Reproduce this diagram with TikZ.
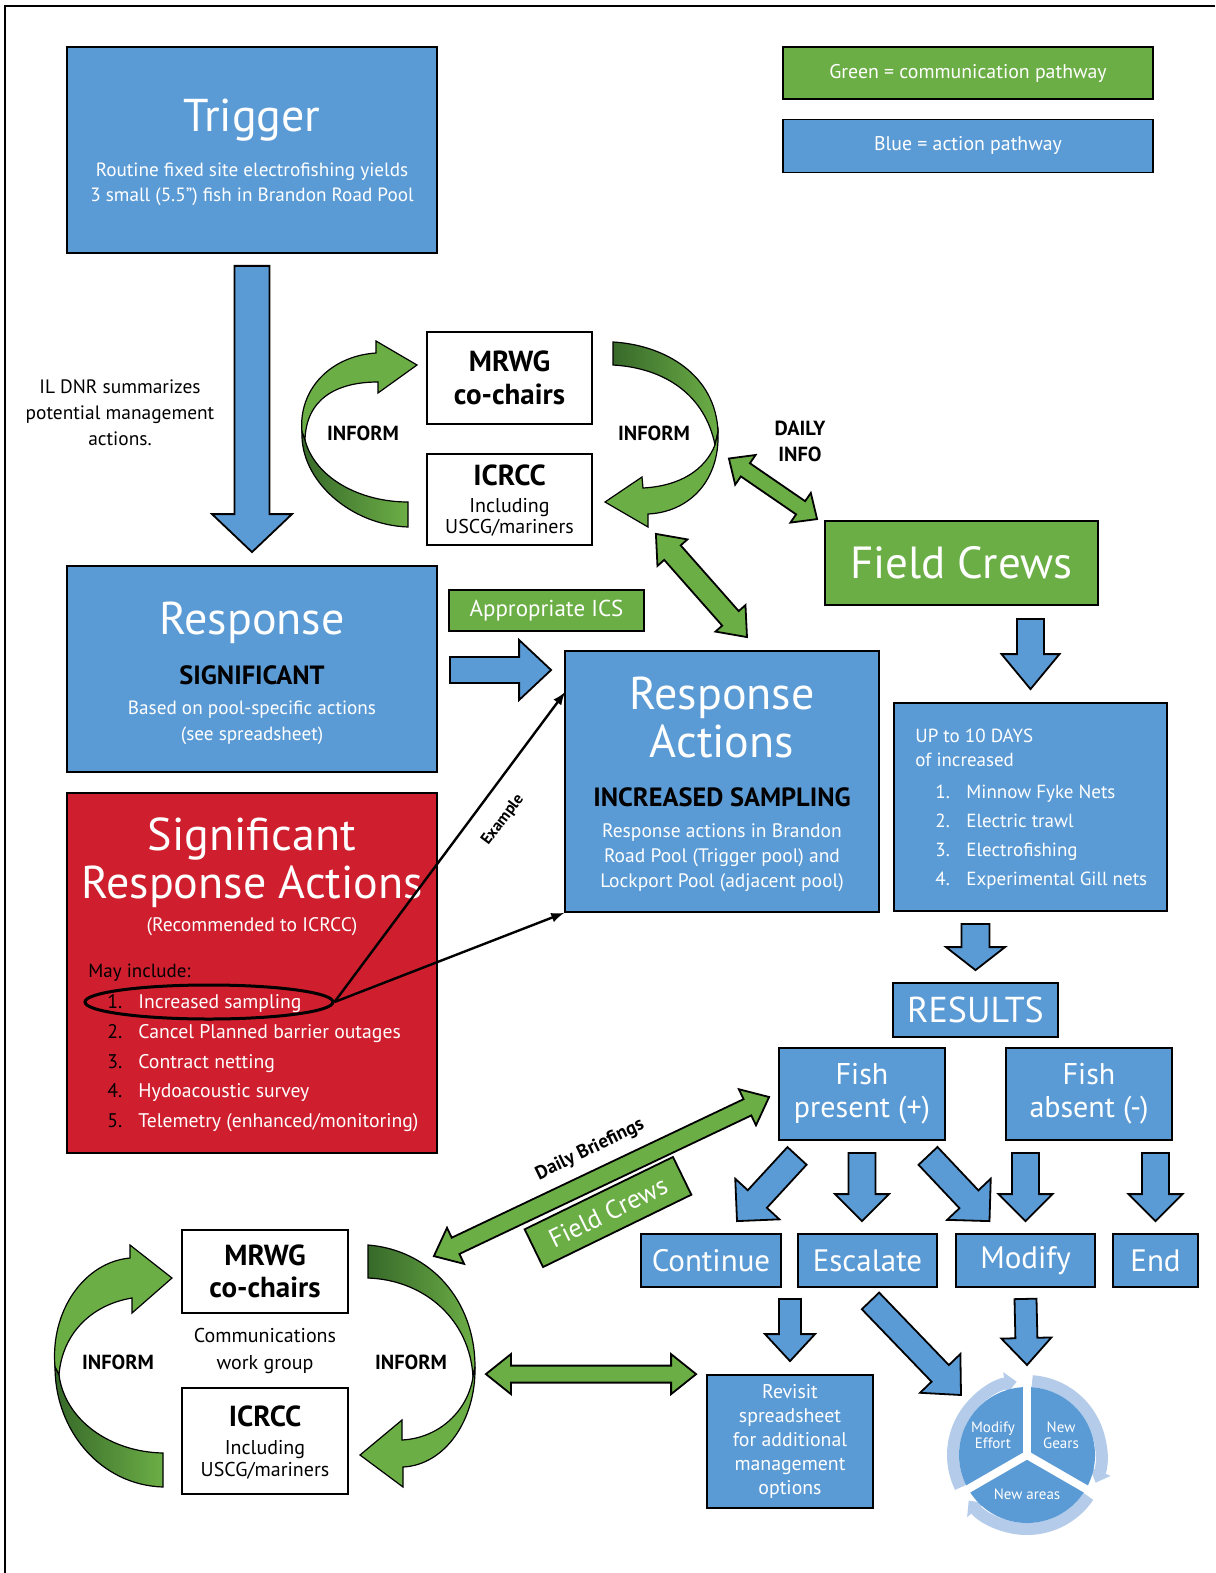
\documentclass[tikz,border=0pt]{standalone}
\usepackage{fontspec}
\setmainfont{PT Sans}
\usepackage{tikz}
\usetikzlibrary{positioning, arrows, arrows.meta, calc, shapes.geometric}

\definecolor{actblue}{HTML}{5B9BD5}
\definecolor{comgreen}{HTML}{6CAE46}
\definecolor{darkgreen}{HTML}{37692A}
\definecolor{sigred}{HTML}{CF1F2E}
\definecolor{ringblue}{HTML}{B4CCEA}

\newcommand\fsz[2]{\fontsize{#1}{#2}\selectfont}

% block arrow: [style]{shaft half width}{head half width}{head length}{from}{to}
\newcommand\blockarrow[6][]{%
  \path #5 coordinate (ba-s) #6 coordinate (ba-e);
  \path ($(ba-e)!#4!(ba-s)$) coordinate (ba-h);
  \filldraw[#1] ($(ba-s)!#2!90:(ba-e)$) -- ($(ba-h)!#2!-90:(ba-s)$)
    -- ($(ba-h)!#3!-90:(ba-s)$) -- (ba-e) -- ($(ba-h)!#3!90:(ba-s)$)
    -- ($(ba-h)!#2!90:(ba-s)$) -- ($(ba-s)!#2!-90:(ba-e)$) -- cycle;
}
% same with a head at both ends
\newcommand\dblarrow[6][]{%
  \path #5 coordinate (da-s) #6 coordinate (da-e);
  \path ($(da-e)!#4!(da-s)$) coordinate (da-h) ($(da-s)!#4!(da-e)$) coordinate (da-g);
  \filldraw[#1] (da-s) -- ($(da-g)!#3!90:(da-e)$) -- ($(da-g)!#2!90:(da-e)$)
    -- ($(da-h)!#2!-90:(da-s)$) -- ($(da-h)!#3!-90:(da-s)$) -- (da-e)
    -- ($(da-h)!#3!90:(da-s)$) -- ($(da-h)!#2!90:(da-s)$)
    -- ($(da-g)!#2!-90:(da-e)$) -- ($(da-g)!#3!-90:(da-e)$) -- cycle;
}

\begin{document}
\begin{tikzpicture}[x=0.5pt, y=-0.5pt,
    actbox/.style={draw, fill=actblue, line width=0.9pt, text=white, inner sep=0},
    combox/.style={draw, fill=comgreen, line width=0.9pt, text=white, inner sep=0},
    whitebox/.style={draw, fill=white, line width=0.9pt, inner sep=0},
    bigtext/.style={font=\fsz{23}{24}, text=white, anchor=base, inner sep=0},
    smalltext/.style={font=\fsz{9.6}{12.5}, text=white, align=center, anchor=north, inner sep=0},
    notetext/.style={font=\fsz{9.7}{13}, align=center, anchor=north, inner sep=0},
    headtext/.style={font=\bfseries\fsz{13.2}{15}, anchor=base, inner sep=0},
    informtext/.style={font=\bfseries\fsz{10.2}{13}, anchor=base, inner sep=0},
    bluearrow/.style={draw, fill=actblue, line width=0.9pt},
    greenarrow/.style={draw, fill=comgreen, line width=0.9pt},
    ribbon/.style={draw, line width=0.6pt}]

    \useasboundingbox (0,0) rectangle (1215,1573);
    \draw[line width=1pt] (5,1573) -- (5,6) -- (1215,6);

    % Legend
    \node[combox, minimum width=185pt, minimum height=26pt, font=\fsz{9.9}{11}] (leggreen) at (968,73) {Green = communication pathway};
    \node[actbox, minimum width=185pt, minimum height=26.5pt, font=\fsz{9.9}{11}] (legblue) at (968,146) {Blue = action pathway};

    % Trigger and first response
    \node[actbox, minimum width=185pt, minimum height=103pt] (trigger) at (252,150) {};
    \node[bigtext] (trigger-t) at (252,132) {Trigger};
    \node[smalltext] (trigger-s) at (252,163) {Routine fixed site electrofishing yields\\3 small (5.5”) fish in Brandon Road Pool};
    \node[notetext] (ildnr) at (120,379) {IL DNR summarizes\\potential management\\actions.};

    \node[actbox, minimum width=185pt, minimum height=103pt] (response) at (252,669) {};
    \node[bigtext] (response-t) at (252,634) {Response};
    \node[headtext] (response-h) at (252,684) {SIGNIFICANT};
    \node[smalltext, font=\fsz{9.6}{13}] (response-s) at (252,700) {Based on pool-specific actions\\(see spreadsheet)};

    % Significant response actions
    \node[draw, fill=sigred, line width=0.9pt, minimum width=185pt, minimum height=180pt] (sigbox) at (252,973) {};
    \node[bigtext, anchor=north, align=center] (sig-t) at (252,817) {Significant\\Response Actions};
    \node[smalltext, font=\fsz{9.8}{12}, anchor=base] (sig-r) at (252,931) {(Recommended to ICRCC)};
    \node[anchor=base west, inner sep=0, font=\fsz{9.5}{12}] (sig-may) at (88,977) {May include:};
    \foreach \txt [count=\i] in {Increased sampling, Cancel Planned barrier outages, Contract netting, Hydoacoustic survey, Telemetry (enhanced/monitoring)} {
        \node[anchor=base west, inner sep=0, font=\fsz{9.85}{12}] (sig-n\i) at (107,979+29.7*\i) {\i.};
        \node[anchor=base west, inner sep=0, font=\fsz{9.85}{12}, text=white] (sig-i\i) at (138,979+29.7*\i) {\txt};
    }
    \node[draw, ellipse, line width=1.5pt, minimum width=124pt, minimum height=17pt, inner sep=0] (circled) at (209,1002) {};

    % Response actions
    \node[combox, minimum width=97.5pt, minimum height=20.5pt, font=\fsz{11.5}{13}] (ics) at (546.5,610.5) {Appropriate ICS};
    \node[actbox, minimum width=157pt, minimum height=130.5pt] (respact) at (722,781.5) {};
    \node[bigtext] (respact-t1) at (722,709) {Response};
    \node[bigtext] (respact-t2) at (722,757) {Actions};
    \node[headtext] (respact-h) at (722,806) {INCREASED SAMPLING};
    \node[smalltext, font=\fsz{9.75}{12.5}] (respact-s) at (722,823) {Response actions in Brandon\\Road Pool (Trigger pool) and\\Lockport Pool (adjacent pool)};

    \draw[line width=1.2pt, -latex] (circled.east) -- ($(respact.north west)+(1,42)$);
    \draw[line width=1.2pt, -latex] (circled.east) -- (respact.south west);
    \node[rotate=53, font=\bfseries\fsz{8}{9}] (example) at (503,820) {Example};

    % Communication loop, top
    \filldraw[ribbon, fill=comgreen] (302,432) .. controls (298,390) and (330,356) .. (376,353) -- (376,341) -- (417,365) -- (378,393) -- (378,382) .. controls (335,382) and (306,400) .. (305,440) -- cycle;
    \shadedraw[ribbon, left color=darkgreen, right color=comgreen] (302,432) .. controls (300,480) and (350,525) .. (408,527) -- (408,502) .. controls (360,502) and (315,478) .. (305,440) -- cycle;
    \shadedraw[ribbon, left color=darkgreen, right color=comgreen] (613,342) .. controls (665,345) and (716,375) .. (718,432) -- (715,445) .. controls (705,395) and (665,368) .. (613,365) -- cycle;
    \filldraw[ribbon, fill=comgreen] (718,432) .. controls (720,480) and (690,512) .. (648,514) -- (648,527) -- (605,502) -- (642,477) -- (643,488) .. controls (680,486) and (705,470) .. (715,445) -- cycle;

    \node[whitebox, minimum width=82.5pt, minimum height=46pt, font=\bfseries\fsz{14.5}{16.5}, align=center] (mrwg1) at (509.5,378) {MRWG\\co-chairs};
    \node[whitebox, minimum width=82.5pt, minimum height=45.5pt] (icrcc1) at (509.5,499.5) {};
    \node[anchor=base, inner sep=0, font=\bfseries\fsz{14.5}{16}] (icrcc1-t) at (509.5,485) {ICRCC};
    \node[anchor=north, inner sep=0, align=center, font=\fsz{10}{10.5}] (icrcc1-s) at (509.5,498) {Including\\USCG/mariners};
    \node[informtext] (inform1) at (363,440) {INFORM};
    \node[informtext] (inform2) at (654,440) {INFORM};
    \node[informtext] (daily) at (800,435) {DAILY};
    \node[informtext] (info) at (800,461) {INFO};

    % Field crews
    \node[combox, minimum width=136.5pt, minimum height=42pt, font=\fsz{22.5}{27}] (fieldcrews) at (961.5,563) {Field Crews};
    \node[actbox, minimum width=136.5pt, minimum height=104pt] (up10) at (1030.5,807) {};
    \node[anchor=base west, inner sep=0, text=white, font=\fsz{9.5}{12}] (up10-a) at (915,742) {UP to 10 DAYS};
    \node[anchor=base west, inner sep=0, text=white, font=\fsz{9.5}{12}] (up10-b) at (915,766) {of increased};
    \foreach \txt [count=\i] in {Minnow Fyke Nets, Electric trawl, Electrofishing, Experimental Gill nets} {
        \node[anchor=base west, inner sep=0, text=white, font=\fsz{9.5}{12}] (up10-n\i) at (935,768.7+29.3*\i) {\i.};
        \node[anchor=base west, inner sep=0, text=white, font=\fsz{9.5}{12}] (up10-i\i) at (966,768.7+29.3*\i) {\txt};
    }

    % Results
    \node[actbox, minimum width=82.5pt, minimum height=27pt, font=\fsz{18}{22}] (results) at (975.5,1010) {RESULTS};
    \node[actbox, minimum width=83pt, minimum height=46pt, font=\fsz{15}{16.5}, align=center] (fishp) at (862,1094) {Fish\\present (+)};
    \node[actbox, minimum width=83pt, minimum height=46pt, font=\fsz{15}{16.5}, align=center] (fisha) at (1089,1094) {Fish\\absent (-)};
    \node[actbox, minimum width=70pt, minimum height=26.5pt, font=\fsz{15.5}{18}] (continue) at (711,1260.5) {Continue};
    \node[actbox, minimum width=69.5pt, minimum height=26.5pt, font=\fsz{15.5}{18}] (escalate) at (867.5,1260.5) {Escalate};
    \node[actbox, minimum width=69.5pt, minimum height=26.5pt, font=\fsz{15.5}{18}] (modify) at (1025.5,1260.5) {Modify};
    \node[actbox, minimum width=42.5pt, minimum height=26.5pt, font=\fsz{15.5}{18}] (endbox) at (1155.5,1260.5) {End};
    \node[actbox, minimum width=83pt, minimum height=66.5pt, font=\fsz{9.9}{12}, align=center] (revisit) at (790,1441.5) {Revisit\\spreadsheet\\for additional\\management\\options};
    \coordinate (pie) at (1027,1455);

    % Communication loop, bottom
    \filldraw[ribbon, fill=comgreen] (55,1367) .. controls (50,1310) and (85,1262) .. (130,1258) -- (130,1245) -- (172,1278) -- (132,1313) -- (132,1298) .. controls (90,1305) and (62,1335) .. (59,1375) -- cycle;
    \shadedraw[ribbon, left color=darkgreen, right color=comgreen] (55,1367) .. controls (55,1430) and (100,1485) .. (163,1487) -- (163,1453) .. controls (110,1452) and (65,1420) .. (59,1375) -- cycle;
    \shadedraw[ribbon, left color=darkgreen, right color=comgreen] (368,1245) .. controls (430,1250) and (475,1300) .. (475,1367) -- (473,1377) .. controls (470,1320) and (425,1280) .. (368,1278) -- cycle;
    \filldraw[ribbon, fill=comgreen] (475,1367) .. controls (476,1420) and (445,1465) .. (403,1467) -- (403,1487) -- (360,1455) -- (402,1420) -- (402,1440) .. controls (440,1438) and (468,1410) .. (473,1377) -- cycle;

    \node[whitebox, minimum width=83pt, minimum height=41.5pt, font=\bfseries\fsz{14.5}{16}, align=center] (mrwg2) at (265,1271.5) {MRWG\\co-chairs};
    \node[inner sep=0, align=center, font=\fsz{10}{13.5}] (commwg) at (265,1351) {Communications\\work group};
    \node[whitebox, minimum width=83pt, minimum height=53pt] (icrcc2) at (265,1441) {};
    \node[anchor=base, inner sep=0, font=\bfseries\fsz{14.5}{16}] (icrcc2-t) at (265,1426) {ICRCC};
    \node[anchor=north, inner sep=0, align=center, font=\fsz{10}{11}] (icrcc2-s) at (265,1440) {Including\\USCG/mariners};
    \node[informtext] (inform3) at (118,1369) {INFORM};
    \node[informtext] (inform4) at (411,1369) {INFORM};

    \node[combox, rotate=26, minimum width=82.5pt, minimum height=21pt, font=\fsz{13}{15}] (crews2) at (608,1212) {Field Crews};
    \node[rotate=26, font=\bfseries\fsz{9.5}{11}] (briefings) at (590,1150) {Daily Briefings};

    % Action arrows
    \blockarrow[bluearrow]{8.75pt}{20pt}{19pt}{($(trigger.south)+(0,12)$)}{($(response.north)+(0,-13)$)}
    \blockarrow[bluearrow]{6.5pt}{15pt}{16pt}{($(response.east)+(12,1)$)}{($(respact.west |- response.east)+(-13,1)$)}
    \blockarrow[bluearrow]{6.75pt}{14.5pt}{17.5pt}{($(up10.north |- fieldcrews.south)+(0,13)$)}{($(up10.north)+(0,-13)$)}
    \blockarrow[bluearrow]{7pt}{14.75pt}{11.5pt}{($(results.north |- up10.south)+(0,12)$)}{($(results.north)+(0,-12)$)}
    \blockarrow[bluearrow]{6.5pt}{15pt}{15pt}{($(fishp.south)+(-65,15)$)}{($(continue.north)+(26,-12)$)}
    \blockarrow[bluearrow]{6.75pt}{13.5pt}{13.5pt}{($(fishp.south)+(0,12)$)}{($(fishp.south |- escalate.north)+(0,-12)$)}
    \blockarrow[bluearrow]{6.5pt}{15pt}{15pt}{($(fishp.south)+(66,15)$)}{($(modify.north)+(-36,-12)$)}
    \blockarrow[bluearrow]{6.75pt}{13.5pt}{13.5pt}{($(modify.north |- fisha.south)+(0,12)$)}{($(modify.north)+(0,-12)$)}
    \blockarrow[bluearrow]{6.75pt}{13.5pt}{13.5pt}{($(endbox.north |- fisha.south)+(0,12)$)}{($(endbox.north)+(0,-12)$)}
    \blockarrow[bluearrow]{5.5pt}{12.5pt}{13.5pt}{($(revisit.north |- escalate.south)+(0,11)$)}{($(revisit.north)+(0,-13)$)}
    \blockarrow[bluearrow]{6pt}{14pt}{15pt}{($(escalate.south)+(3,13)$)}{($(pie)+(-66,-60)$)}
    \blockarrow[bluearrow]{5.5pt}{12.5pt}{13.5pt}{($(modify.south)+(0,11)$)}{($(pie)+(0,-90)$)}

    % Communication arrows
    \dblarrow[greenarrow]{4pt}{9pt}{10pt}{($(icrcc1.east)+(136,-41)$)}{($(fieldcrews.north west)+(-7,-1)$)}
    \dblarrow[greenarrow]{5.5pt}{10pt}{12.5pt}{($(icrcc1.south east)+(63,-12)$)}{($(respact.north)+(25,-13)$)}
    \dblarrow[greenarrow]{4.5pt}{10pt}{12pt}{($(mrwg2.north east)+(85,27)$)}{($(fishp.west)+(-9,3)$)}
    \dblarrow[greenarrow]{4.25pt}{10pt}{12.5pt}{($(icrcc2.north east)+(137,-13)$)}{($(revisit.north west)+(-10,0)$)}

    % Modify cycle
    \begin{scope}[shift={(pie)}, x=0.5pt, y=0.5pt]
        \foreach \a in {90, 210, 330}
            \draw[ringblue, line width=6pt, -{Triangle[width=11pt, length=6pt]}] (\a+116:37pt) arc[start angle=\a+116, end angle=\a+8, radius=37pt];
        \foreach \a in {90, 210, 330}
            \fill[actblue] (0,0) -- (\a:34pt) arc[start angle=\a, end angle=\a+120, radius=34pt] -- cycle;
        \foreach \a in {90, 210, 330}
            \draw[white, line width=4pt] (0,0) -- (\a:42pt);
        \node[text=white, align=center, font=\fsz{7.5}{8}] (pie-me) at (-34,20) {Modify\\Effort};
        \node[text=white, align=center, font=\fsz{7.5}{8}] (pie-ng) at (34,20) {New\\Gears};
        \node[text=white, font=\fsz{7.5}{8}] (pie-na) at (0,-39) {New areas};
    \end{scope}

\end{tikzpicture}
\end{document}
